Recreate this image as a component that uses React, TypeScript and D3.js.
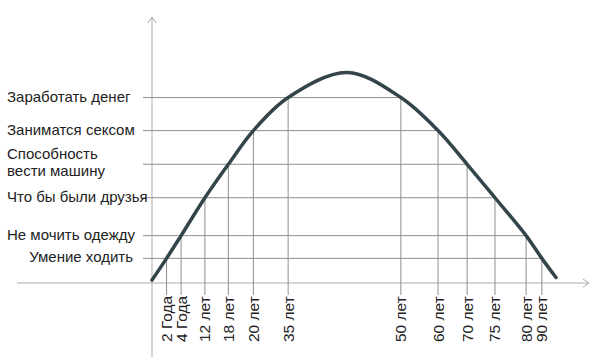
import React, { useEffect, useRef } from 'react';
import * as d3 from 'd3';

// skill levels (y) and what they mean
const skillLabels = [
  'Умение ходить',
  'Не мочить одежду',
  'Что бы были друзья',
  'Способность\nвести машину',
  'Заниматся сексом',
  'Заработать денег',
];
const skillLevels = [11.7, 22.5, 40.5, 56.4, 72.4, 88.1];

// age where the skill is gained (rising side) and lost (falling side)
const gainAges = ['2 Года', '4 Года', '12 лет', '18 лет', '20 лет', '35 лет'];
const gainPos = [3.6, 7.2, 13.1, 18.9, 25.1, 33.7];
const lossAges = ['90 лет', '80 лет', '75 лет', '70 лет', '60 лет', '50 лет'];
const lossPos = [96.5, 92.6, 84.9, 78.0, 70.8, 61.6];

// curve ends and top
const curveStart: [number, number] = [0, 1.4];
const curvePeak: [number, number] = [48.3, 100];
const curveEnd: [number, number] = [100, 2.6];

const W = 600;
const H = 364;
const FONT = '"Liberation Sans", Arial, sans-serif';

export default function App() {
  const svgRef = useRef<SVGSVGElement>(null);

  useEffect(() => {
    if (!svgRef.current) return;
    const svg = d3.select(svgRef.current);
    svg.selectAll('*').remove();

    const x = d3.scaleLinear().domain([0, 100]).range([152, 556]);
    const y = d3.scaleLinear().domain([0, 100]).range([283, 72.5]);
    const axisY = y(0);
    const tickBottom = 295;

    // axes
    const axes = svg.append('g').attr('stroke', '#ababab').attr('fill', 'none').attr('stroke-width', 1);
    axes.append('line').attr('x1', x(0)).attr('x2', x(0)).attr('y1', 17).attr('y2', 357);
    axes.append('path').attr('d', `M${x(0) - 4},23 L${x(0)},17 L${x(0) + 4},23`);
    axes.append('line').attr('x1', 17).attr('x2', 589).attr('y1', axisY).attr('y2', axisY);
    axes.append('path').attr('d', `M583,${axisY - 4} L589,${axisY} L583,${axisY + 4}`);

    // grid: horizontal level lines from axis to the falling crossing, drops to the axis
    const grid = svg.append('g').attr('stroke', '#8f8f8f').attr('stroke-width', 1);
    skillLevels.forEach((lv, i) => {
      grid.append('line')
        .attr('x1', 143).attr('x2', x(lossPos[i]))
        .attr('y1', y(lv)).attr('y2', y(lv));
      grid.append('line')
        .attr('x1', x(gainPos[i])).attr('x2', x(gainPos[i]))
        .attr('y1', y(lv)).attr('y2', tickBottom);
      grid.append('line')
        .attr('x1', x(lossPos[i])).attr('x2', x(lossPos[i]))
        .attr('y1', y(lv)).attr('y2', tickBottom);
    });

    // the curve
    const pts: [number, number][] = [
      curveStart,
      ...gainPos.map((p, i) => [p, skillLevels[i]] as [number, number]),
      curvePeak,
      ...lossPos.map((p, i) => [p, skillLevels[i]] as [number, number]).reverse(),
      curveEnd,
    ];
    const line = d3.line<[number, number]>()
      .x(d => x(d[0]))
      .y(d => y(d[1]))
      .curve(d3.curveCatmullRom.alpha(0.5));
    svg.append('path')
      .attr('d', line(pts))
      .attr('fill', 'none')
      .attr('stroke', '#34444b')
      .attr('stroke-width', 3.5)
      .attr('stroke-linecap', 'round');

    // level labels on the left
    skillLabels.forEach((label, i) => {
      const parts = label.split('\n');
      const cy = y(skillLevels[i]) - 2 - (parts.length > 1 ? 1 : 0);
      const t = svg.append('text')
        .attr('font-family', FONT)
        .attr('font-size', 15)
        .attr('fill', '#222')
        .attr('dominant-baseline', 'central')
        .attr('x', i === 0 ? 133 : 7)
        .attr('text-anchor', i === 0 ? 'end' : 'start');
      parts.forEach((p, j) => {
        t.append('tspan')
          .attr('x', i === 0 ? 133 : 7)
          .attr('y', cy + (j - (parts.length - 1) / 2) * 17.4)
          .text(p);
      });
    });

    // age labels, rotated
    const ages = [...gainAges.map((a, i) => ({ a, p: gainPos[i] })), ...lossAges.map((a, i) => ({ a, p: lossPos[i] }))];
    svg.append('g')
      .selectAll('text')
      .data(ages)
      .enter()
      .append('text')
      .attr('transform', d => `translate(${x(d.p)},342) rotate(-90)`)
      .attr('font-family', FONT)
      .attr('font-size', 15.5)
      .attr('fill', '#222')
      .attr('dominant-baseline', 'central')
      .attr('text-anchor', 'start')
      .text(d => d.a);
  }, []);

  return (
    <div style={{ position: 'fixed', left: 0, top: 0, width: W, height: H, background: '#fff' }}>
      <svg ref={svgRef} width={W} height={H}></svg>
    </div>
  );
}
